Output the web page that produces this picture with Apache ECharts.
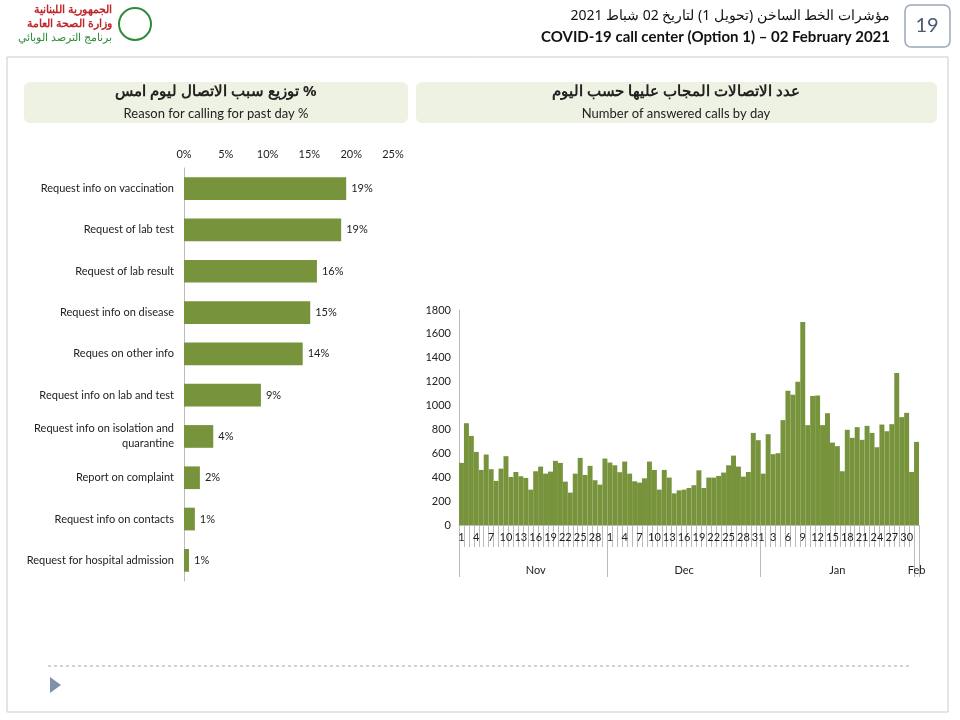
<!DOCTYPE html>
<html>
<head>
<meta charset="utf-8">
<script src="https://cdn.jsdelivr.net/npm/echarts@6/dist/echarts.min.js"></script>
<style>
html,body{margin:0;padding:0;background:#fff;}
#main{width:960px;height:720px;}
</style>
</head>
<body>
<div id="main"></div>
<script>
// reasons for calling, past day (%)
var reasons = ['Request info on vaccination', 'Request of lab test', 'Request of lab result',
	'Request info on disease', 'Reques on other info', 'Request info on lab and test',
	'Request info on isolation and\nquarantine', 'Report on complaint', 'Request info on contacts',
	'Request for hospital admission'];
var reasonPct = [19.4, 18.8, 15.9, 15.1, 14.2, 9.2, 3.5, 1.9, 1.3, 0.6];
var reasonLabels = ['19%', '19%', '16%', '15%', '14%', '9%', '4%', '2%', '1%', '1%'];

// answered calls by day
var callsNov = [520, 852, 746, 612, 461, 590, 467, 369, 472, 576, 402, 444, 408, 394, 296,
	450, 489, 430, 447, 537, 520, 363, 271, 430, 562, 419, 495, 375, 338, 556];
var callsDec = [523, 500, 442, 531, 430, 366, 355, 391, 531, 461, 296, 461, 397, 265, 290,
	296, 310, 333, 458, 310, 397, 397, 411, 439, 500, 581, 489, 405, 444, 771, 710];
var callsJan = [430, 760, 593, 601, 878, 1124, 1090, 1199, 1699, 836, 1079, 1084, 836, 936, 690,
	660, 450, 797, 730, 819, 713, 830, 771, 651, 841, 785, 844, 1272, 903, 939, 444];
var callsFeb = [696];
var months = ['Nov', 'Dec', 'Jan', 'Feb'];

var days = [], calls = [], monthCats = [], bounds = [];
[callsNov, callsDec, callsJan, callsFeb].forEach(function (arr, m) {
	bounds.push(days.length);
	var mid = Math.floor(arr.length / 2);
	arr.forEach(function (v, i) {
		days.push(String(i + 1));
		calls.push(v);
		monthCats.push(i === mid ? months[m] : '');
	});
});
bounds.push(days.length);

var green = '#77933c';
var font = 'Lato, "Open Sans", sans-serif';
var chart = echarts.init(document.getElementById('main'));

chart.setOption({
	animation : false,
	textStyle : { fontFamily : font, color : '#222' },
	graphic : [
		{ type : 'rect', shape : { x : 7, y : 57, width : 941, height : 655 },
			style : { fill : 'none', stroke : '#c8cfbf', lineWidth : 1 } },
		{ type : 'rect', shape : { x : 24, y : 82, width : 384, height : 41, r : 6 },
			style : { fill : '#eef2e2' } },
		{ type : 'rect', shape : { x : 416, y : 82, width : 521, height : 41, r : 6 },
			style : { fill : '#eef2e2' } },
		{ type : 'text', x : 216, y : 92, style : { text : 'توزيع سبب الاتصال ليوم امس %',
			font : 'bold 15px "Noto Sans", sans-serif', fill : '#222', textAlign : 'center', textVerticalAlign : 'middle' } },
		{ type : 'text', x : 216, y : 114, style : { text : 'Reason for calling for past day %',
			font : '13px ' + font, fill : '#222', textAlign : 'center', textVerticalAlign : 'middle' } },
		{ type : 'text', x : 676, y : 92, style : { text : 'عدد الاتصالات المجاب عليها حسب اليوم',
			font : 'bold 15px "Noto Sans", sans-serif', fill : '#222', textAlign : 'center', textVerticalAlign : 'middle' } },
		{ type : 'text', x : 676, y : 114, style : { text : 'Number of answered calls by day',
			font : '13px ' + font, fill : '#222', textAlign : 'center', textVerticalAlign : 'middle' } },
		// header
		{ type : 'text', x : 890, y : 16, style : { text : 'مؤشرات الخط الساخن (تحويل 1) لتاريخ 02 شباط 2021',
			font : '14px "Noto Sans", sans-serif', fill : '#111', textAlign : 'right', textVerticalAlign : 'middle' } },
		{ type : 'text', x : 890, y : 37, style : { text : 'COVID-19 call center (Option 1) \u2013 02 February 2021',
			font : 'bold 15px ' + font, fill : '#111', textAlign : 'right', textVerticalAlign : 'middle' } },
		{ type : 'rect', shape : { x : 905, y : 5, width : 45, height : 42, r : 6 },
			style : { fill : '#fff', stroke : '#9aa7b8', lineWidth : 1.5 } },
		{ type : 'text', x : 927, y : 26, style : { text : '19', font : '20px ' + font, fill : '#4a5a70',
			textAlign : 'center', textVerticalAlign : 'middle' } },
		{ type : 'text', x : 112, y : 10, style : { text : 'الجمهورية اللبنانية',
			font : 'bold 11px "Noto Sans", sans-serif', fill : '#c0272d', textAlign : 'right', textVerticalAlign : 'middle' } },
		{ type : 'text', x : 112, y : 24, style : { text : 'وزارة الصحة العامة',
			font : 'bold 11px "Noto Sans", sans-serif', fill : '#c0272d', textAlign : 'right', textVerticalAlign : 'middle' } },
		{ type : 'text', x : 112, y : 38, style : { text : 'برنامج الترصد الوبائي',
			font : '11px "Noto Sans", sans-serif', fill : '#2e8b3a', textAlign : 'right', textVerticalAlign : 'middle' } },
		{ type : 'circle', shape : { cx : 135, cy : 24, r : 16 },
			style : { fill : 'none', stroke : '#2e8b3a', lineWidth : 2 } },
		// footer
		{ type : 'line', shape : { x1 : 48, y1 : 666, x2 : 912, y2 : 666 },
			style : { stroke : '#9aa7b8', lineDash : [3, 3], lineWidth : 1 } },
		{ type : 'polygon', shape : { points : [[50, 677], [50, 693], [61, 685]] },
			style : { fill : '#7f90aa' } }
	],
	grid : [
		{ left : 184, right : 567, top : 168, bottom : 139 },
		{ left : 459, right : 41, top : 310, bottom : 195 }
	],
	xAxis : [
		{ gridIndex : 0, type : 'value', position : 'top', min : 0, max : 25, interval : 5,
			axisLine : { show : false }, axisTick : { show : false }, splitLine : { show : false },
			axisLabel : { formatter : '{value}%', fontSize : 11, color : '#222' } },
		{ gridIndex : 1, type : 'category', data : days, boundaryGap : true,
			axisLine : { show : true, lineStyle : { color : '#bbb' } },
			axisTick : { show : true, length : 22, lineStyle : { color : '#bbb' }, interval : 0 },
			axisLabel : { interval : 2, margin : 7, fontSize : 11, color : '#222' } },
		{ gridIndex : 1, type : 'category', data : monthCats, boundaryGap : true, position : 'bottom',
			axisLine : { show : false },
			axisTick : { show : true, length : 52, lineStyle : { color : '#bbb' },
				interval : function (i) { return bounds.indexOf(i) >= 0; } },
			axisLabel : { interval : 0, margin : 40, fontSize : 11, color : '#222' } }
	],
	yAxis : [
		{ gridIndex : 0, type : 'category', data : reasons, inverse : true,
			axisLine : { show : true, lineStyle : { color : '#bbb' } }, axisTick : { show : false },
			axisLabel : { fontSize : 11, color : '#222', margin : 10, lineHeight : 15 } },
		{ gridIndex : 1, type : 'value', min : 0, max : 1800, interval : 200,
			axisLine : { show : true, lineStyle : { color : '#bbb' } }, splitLine : { show : false },
			axisLabel : { fontSize : 11, color : '#222', formatter : function (v) { return String(v); } } }
	],
	series : [
		{ type : 'bar', xAxisIndex : 0, yAxisIndex : 0, data : reasonPct, barWidth : '55%',
			itemStyle : { color : green },
			label : { show : true, position : 'right', fontSize : 11, color : '#222',
				formatter : function (p) { return reasonLabels[p.dataIndex]; } } },
		{ type : 'bar', xAxisIndex : 1, yAxisIndex : 1, data : calls, barCategoryGap : 0,
			itemStyle : { color : green } }
	]
});
</script>
</body>
</html>
